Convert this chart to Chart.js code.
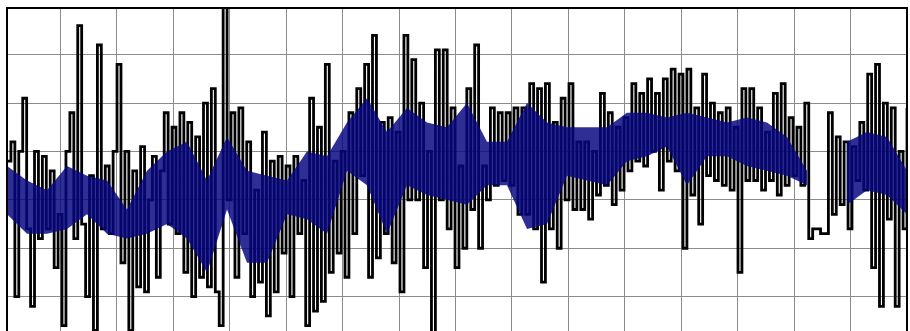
<!DOCTYPE html>
<html>
<head>
<meta charset="utf-8">
<script src="https://cdn.jsdelivr.net/npm/chart.js@4"></script>
<style>
  html, body { margin: 0; padding: 0; background: #fff; overflow: hidden; }
  #wrap { width: 910px; height: 345px; }
</style>
</head>
<body>
<div id="wrap"><canvas id="signal-chart" width="910" height="345"></canvas></div>
<script>
// === 1. Data (evenly spaced samples) ===

/** Black trace, 230 samples left to right. */
const signal = [
  38, 42, 10, 40, 51, 24, 8, 40, 22, 39, 24, 36, 16, 27, 4, 40, 48, 22, 66, 25,
  10, 35, 3, 62, 24, 37, 23, 40, 58, 17, 40, 3, 36, 12, 41, 11, 30, 39, 14, 36,
  48, 25, 45, 23, 48,
  15, 46, 10, 43, 14, 50, 12, 53, 11, 4, 70, 30, 48, 14, 49, 23, 42, 10, 32, 13,
  44, 6, 38, 11, 39, 19, 37, 10, 39, 23, 34, 4, 51, 7, 45, 9, 58, 15, 38, 19,
  40, 14, 48, 23, 53, 35,
  58, 14, 64, 18, 46, 23, 47, 17, 44, 11, 64, 30, 59, 30, 50, 16, 40, 2, 61, 30,
  61, 24, 49, 16, 37, 20, 53, 28, 62, 20, 37, 30, 49, 33, 48, 34, 48, 33, 49, 27,
  49, 27, 54, 24, 53, 13,
  54, 24, 46, 20, 51, 30, 54, 28, 42, 28, 42, 26, 40, 31, 52, 33, 48, 29, 45, 32,
  47, 36, 54, 38, 52, 37, 55, 40, 52, 32, 55, 38, 57, 36, 56, 20, 57, 31, 49, 25,
  56, 35, 50, 34, 48, 33,
  49, 32, 45, 15, 53, 34, 53, 34, 49, 32, 44, 34, 52, 31, 54, 33, 47, 35, 45, 33,
  50, 22, 24, 24, 23, 23, 48, 27, 43, 29, 42, 24, 41, 34, 46, 32, 56, 16, 58, 8,
  50, 26, 49, 8, 40, 24, 49
];

/** Upper and lower edge of the blue body, 46 samples left to right (null = no body). */
const bandUpper = [
  37, 34, 32, 37, 35, 34, 28, 36, 40, 42, 34, 43, 36, 35, 34, 40, 39, 46, 51, 44,
  49, 46, 45, 50, 42, 42, 50, 46, 45, 45, 45, 48, 48, 47, 48, 47, 46, 47, 46, 43,
  36, null, 42, 44, 43, 36
];
const bandLower = [
  27, 23, 23, 24, 27, 23, 22, 23, 25, 22, 15, 28, 17, 17, 27, 26, 23, 36, 33, 23,
  33, 31, 30, 29, 33, 33, 24, 25, 35, 34, 33, 38, 39, 41, 33, 39, 39, 37, 36, 35,
  33, null, 29, 32, 31, 27
];

// === 2. Axis ranges ===
// 16 grid columns; the first one is slightly cut by the left edge.
const X_MIN = 0.053;
const X_MAX = 16;
const Y_MIN = 0;
const Y_MAX = 69.65;

/** Spread a list of values evenly over the x range. */
const toPoints = values => values.map((v, i) => ({
  x: X_MIN + i * (X_MAX - X_MIN) / (values.length - 1),
  y: v
}));

/** Black frame around the plot area. */
const framePlugin = {
  id: 'frame',
  afterDatasetsDraw(chart) {
    const { ctx, chartArea: a } = chart;
    ctx.save();
    ctx.strokeStyle = '#000';
    ctx.lineWidth = 2;
    ctx.strokeRect(a.left, a.top, a.right - a.left, a.bottom - a.top);
    ctx.restore();
  }
};

// === 3. Chart ===
const ctx = document.getElementById('signal-chart').getContext('2d');

// Dataset 0 is painted last, so the blue body sits over the black trace;
// it is slightly see-through so the strokes still show inside it.
new Chart(ctx, {
  type: 'line',
  data: {
    datasets: [
      {
        label: 'Body low',
        data: toPoints(bandLower),
        borderColor: 'rgba(0,0,0,0)',
        pointRadius: 0,
        spanGaps: false,
        fill: false
      },
      {
        label: 'Body high',
        data: toPoints(bandUpper),
        borderColor: 'rgba(0,0,0,0)',
        backgroundColor: 'rgba(6, 6, 128, 0.84)',
        pointRadius: 0,
        spanGaps: false,
        fill: '-1'
      },
      {
        label: 'Signal',
        data: toPoints(signal),
        borderColor: '#000',
        borderWidth: 2.8,
        stepped: true,
        pointRadius: 0,
        fill: false
      }
    ]
  },
  options: {
    responsive: false,
    animation: false,
    devicePixelRatio: 1,
    layout: { padding: { left: 7, top: 8, right: 3, bottom: 0 } },
    plugins: {
      legend: { display: false },
      tooltip: { enabled: false }
    },
    scales: {
      x: {
        type: 'linear',
        min: X_MIN,
        max: X_MAX,
        ticks: { display: false, stepSize: 1 },
        grid: { color: '#8c8c8c', lineWidth: 1, drawTicks: false },
        border: { display: false },
        afterFit: s => { s.height = 0; }
      },
      y: {
        min: Y_MIN,
        max: Y_MAX,
        ticks: { display: false, stepSize: 10 },
        grid: { color: '#8c8c8c', lineWidth: 1, drawTicks: false },
        border: { display: false },
        afterFit: s => { s.width = 0; }
      }
    }
  },
  plugins: [framePlugin]
});
</script>
</body>
</html>
